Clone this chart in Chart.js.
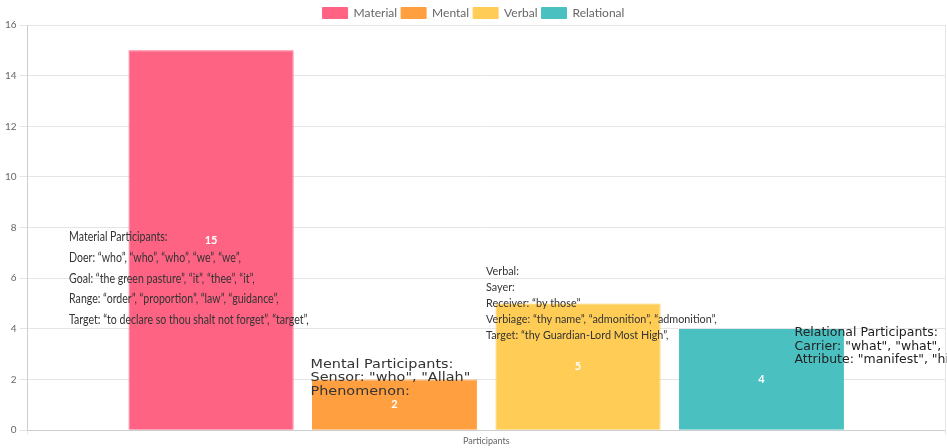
<!DOCTYPE html>
<html><head><meta charset="utf-8">
<script src="https://cdn.jsdelivr.net/npm/chart.js@4"></script>
<style>html,body{margin:0;padding:0;background:#fff;}#wrap{width:947px;height:448px;}</style>
</head><body><div id="wrap"><canvas id="c" width="947" height="448"></canvas></div>
<script>
const categories = ["Participants"];
const seriesNames = ["Material", "Mental", "Verbal", "Relational"];
const seriesValues = [[15], [2], [5], [4]];
const seriesColors = ["#ff6384", "#ff9f40", "#ffcd56", "#4bc0c0"];
const yTicks = [0, 2, 4, 6, 8, 10, 12, 14, 16];

const notes = [
  { ds: 0, dx: -142, yVal: 7.63, font: "14px Lato", sx: 0.755, lh: 20.6, color: "#333",
    lines: ["Material Participants:",
      "Doer: \u201cwho\u201d, \u201cwho\u201d, \u201cwho\u201d, \u201cwe\u201d, \u201cwe\u201d,",
      "Goal: \u201cthe green pasture\u201d, \u201cit\u201d, \u201cthee\u201d, \u201cit\u201d,",
      "Range: \u201corder\u201d, \u201cproportion\u201d, \u201claw\u201d, \u201cguidance\u201d,",
      "Target: \u201cto declare so thou shalt not forget\u201d, \u201ctarget\u201d,"] },
  { ds: 1, dx: -84, yVal: 2.58, font: "12px 'DejaVu Sans'", sx: 1.2, lh: 13.5, color: "#333",
    lines: ["Mental Participants:", "Sensor: \"who\", \"Allah\"", "Phenomenon:"] },
  { ds: 2, dx: -92, yVal: 6.28, font: "12px Lato", sx: 0.9, lh: 16, color: "#333",
    lines: ["Verbal:", "Sayer:", "Receiver: \u201cby those\u201d",
      "Verbiage: \u201cthy name\u201d, \u201cadmonition\u201d, \u201cadmonition\u201d,",
      "Target: \u201cthy Guardian-Lord Most High\u201d,"] },
  { ds: 3, dx: 33, yVal: 3.84, font: "12px 'DejaVu Sans'", sx: 1.04, lh: 13.5, color: "#222",
    lines: ["Relational Participants:", "Carrier: \"what\", \"what\",", "Attribute: \"manifest\", \"hidden\""] }
];

const legendFit = {
  id: "legendFit",
  beforeInit(chart) {
    const lg = chart.legend;
    if (!lg) return;
    const orig = lg.fit;
    lg.fit = function () { orig.call(this); this.height -= 4; };
  }
};

const notePlugin = {
  id: "notes",
  afterDatasetsDraw(chart) {
    const ctx = chart.ctx;
    const ys = chart.scales.y;
    chart.data.datasets.forEach((d, i) => {
      const bar = chart.getDatasetMeta(i).data[0];
      ctx.save();
      ctx.font = "bold 11px Lato";
      ctx.fillStyle = "#fff";
      ctx.textAlign = "center";
      ctx.textBaseline = "middle";
      ctx.fillText(String(d.data[0]), bar.x, (bar.y + bar.base) / 2);
      ctx.restore();
    });
    notes.forEach(n => {
      const bar = chart.getDatasetMeta(n.ds).data[0];
      const x0 = bar.x + n.dx;
      const y0 = ys.getPixelForValue(n.yVal);
      ctx.save();
      ctx.font = n.font;
      ctx.fillStyle = n.color;
      ctx.textBaseline = "middle";
      ctx.textAlign = "left";
      n.lines.forEach((t, k) => {
        ctx.save();
        ctx.translate(x0, y0 + k * n.lh);
        ctx.scale(n.sx, 1);
        ctx.fillText(t, 0, 0);
        ctx.restore();
      });
      ctx.restore();
    });
  }
};

Chart.defaults.font.family = "Lato";
new Chart(document.getElementById("c"), {
  type: "bar",
  data: {
    labels: categories,
    datasets: seriesNames.map((n, i) => ({
      label: n, data: seriesValues[i],
      backgroundColor: seriesColors[i], borderColor: seriesColors[i], borderWidth: 1
    }))
  },
  options: {
    responsive: false, animation: false,
    layout: { padding: { left: 2, right: 2, top: 3, bottom: 1 } },
    plugins: {
      legend: { position: "top", labels: { boxWidth: 25, boxHeight: 11, padding: 4, color: "#666", font: { size: 12 } } },
      tooltip: { enabled: false }
    },
    scales: {
      x: { ticks: { color: "#666", font: { size: 9 }, padding: 1 }, grid: { color: "#e5e5e5", tickLength: 4 } },
      y: { min: 0, max: 16, afterBuildTicks: ax => { ax.ticks = yTicks.map(v => ({ value: v })); },
        ticks: { color: "#666", font: { size: 10 } }, grid: { color: "#e5e5e5" } }
    }
  },
  plugins: [legendFit, notePlugin]
});
</script></body></html>
